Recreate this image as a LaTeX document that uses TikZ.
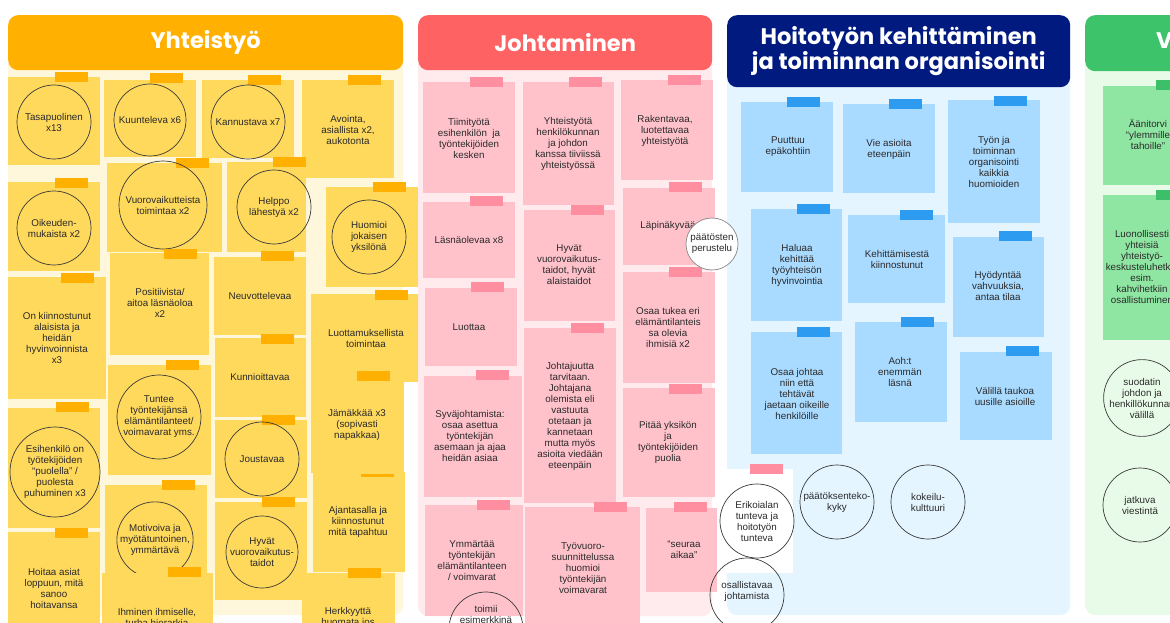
\documentclass[tikz,border=0pt]{standalone}
\usepackage{fontspec}
\setmainfont{Liberation Sans}
\newfontfamily\headfont{Poppins}
\definecolor{ink}{HTML}{2A2A2A}
\definecolor{ring}{HTML}{3A3A3A}
\definecolor{hy}{HTML}{FFB000}
\definecolor{by}{HTML}{FFF7DC}
\definecolor{ny}{HTML}{FFD95C}
\definecolor{ty}{HTML}{FFB000}
\definecolor{hr}{HTML}{FF6262}
\definecolor{br}{HTML}{FFEAEE}
\definecolor{nr}{HTML}{FFC2CB}
\definecolor{tr}{HTML}{FF8FA0}
\definecolor{hb}{HTML}{011A80}
\definecolor{bb}{HTML}{E4F5FF}
\definecolor{nb}{HTML}{A9DAFF}
\definecolor{tb}{HTML}{2D9CF0}
\definecolor{hg}{HTML}{3DC46A}
\definecolor{bg}{HTML}{E8FBE8}
\definecolor{ng}{HTML}{8FE6A2}
\definecolor{tg}{HTML}{3DBF6A}
\newcommand\postit[6]{\node[note=#6, minimum width=#4, minimum height=#5] (#1) at (#2,#3) {};}
\newcommand\tapeat[4]{\node[tape=#4] (#1) at (#2,#3) {};}
\begin{document}
\begin{tikzpicture}[x=1pt,y=-1pt,
  note/.style={fill=#1, inner sep=0, outer sep=0, anchor=north west},
  tape/.style={fill=#1, minimum width=33, minimum height=10, inner sep=0, outer sep=0},
  txt/.style={align=center, font=\fontsize{9.8}{11}\selectfont, text=ink, inner sep=0},
  circ/.style={circle, draw=ring, line width=0.7pt, minimum size=#1, inner sep=0, align=center, font=\fontsize{9.8}{11}\selectfont, text=ink},
  body/.style={fill=#1, rounded corners=10pt, anchor=north west, inner sep=0},
  hdr/.style={fill=#1, rounded corners=10pt, anchor=north west, inner sep=0, text=white, font=\headfont\bfseries\fontsize{22.5}{20}\selectfont, align=center}
]
\useasboundingbox (0,0) rectangle (1170,623);
\clip (0,0) rectangle (1170,623);
\fill[white] (0,0) rectangle (1170,623);

% panels
\node[body=by, minimum width=395, minimum height=600] (p1) at (8,15) {};
\node[body=br, minimum width=294, minimum height=601] (p2) at (418,15) {};
\node[body=bb, minimum width=343, minimum height=600] (p3) at (727,15) {};
\node[body=bg, minimum width=120, minimum height=600] (p4) at (1085,15) {};
\node[hdr=hy, minimum width=395, minimum height=55] (h1) at (8,15) {Yhteistyö};
\node[hdr=hr, minimum width=294, minimum height=55] (h2) at (418,15) {Johtaminen};
\node[hdr=hb, minimum width=343, minimum height=72] (h3) at (727,15) {Hoitotyön kehittäminen\\ja toiminnan organisointi};
\node[hdr=hg, minimum width=120, minimum height=56] (h4) at (1085,15) {};
\node[font=\headfont\bfseries\fontsize{22.5}{20}\selectfont, text=white, anchor=west, inner sep=0] (h4t) at (1156,41) {V};

% ---------- Yhteistyö ----------
\postit{y1}{8}{77}{92}{88}{ny}\tapeat{y1t}{71}{77}{ty}
\node[circ=74] (y1c) at (54,122) {Tasapuolinen\\x13};
\postit{y2}{104}{80}{92}{77}{ny}\tapeat{y2t}{166}{78}{ty}
\node[circ=72] (y2c) at (150,120) {Kuunteleva x6};
\postit{y3}{202}{80}{92}{78}{ny}\tapeat{y3t}{264}{80}{ty}
\node[circ=74] (y3c) at (248,122) {Kannustava x7};
\postit{y4}{302}{80}{92}{98}{ny}\tapeat{y4t}{364}{80}{ty}
\node[txt] (y4x) at (348,130) {Avointa,\\asiallista x2,\\aukotonta};
\postit{y5}{8}{182}{92}{89}{ny}\tapeat{y5t}{71}{183}{ty}
\node[circ=74] (y5c) at (54,228) {Oikeuden-\\mukaista x2};
\postit{y6}{107}{163}{115}{89}{ny}\tapeat{y6t}{192}{163}{ty}
\node[circ=88] (y6c) at (163,205) {Vuorovaikutteista\\toimintaa x2};
\postit{y7}{227}{162}{79}{90}{ny}\tapeat{y7t}{289}{162}{ty}
\node[circ=74] (y7c) at (274,207) {Helppo\\lähestyä x2};
\postit{y8}{326}{187}{92}{100}{ny}\tapeat{y8t}{389}{187}{ty}
\node[circ=74] (y8c) at (369,237) {Huomioi\\jokaisen\\yksilönä};
\postit{y9}{8}{277}{98}{122}{ny}\tapeat{y9t}{77}{278}{ty}
\node[txt] (y9x) at (57,338) {On kiinnostunut\\alaisista ja\\heidän\\hyvinvoinnista\\x3};
\postit{y10}{110}{253}{99}{102}{ny}\tapeat{y10t}{180}{254}{ty}
\node[txt] (y10x) at (160,303) {Positiivista/\\aitoa läsnäoloa\\x2};
\postit{y11}{214}{257}{92}{78}{ny}\tapeat{y11t}{277}{256}{ty}
\node[txt] (y11x) at (260,296) {Neuvottelevaa};
\postit{y12}{311}{294}{107}{88}{ny}\tapeat{y12t}{391}{295}{ty}
\node[txt] (y12x) at (366,338) {Luottamuksellista\\toimintaa};
\postit{y13}{215}{338}{91}{79}{ny}\tapeat{y13t}{277}{339}{ty}
\node[txt] (y13x) at (260,377) {Kunnioittavaa};
\postit{y14}{108}{365}{103}{110}{ny}\tapeat{y14t}{182}{365}{ty}
\node[circ=84] (y14c) at (159,417) {Tuntee\\työntekijänsä\\elämäntilanteet/\\voimavarat yms.};
\postit{y18}{313}{472}{92}{100}{ny}\node[fill=ty, minimum width=33, minimum height=3, inner sep=0] (y18t) at (377,475) {};
\node[txt] (y18x) at (358,522) {Ajantasalla ja\\kiinnostunut\\mitä tapahtuu};
\postit{y15}{311}{381}{93}{92}{ny}\tapeat{y15t}{373}{376}{ty}
\node[txt] (y15x) at (357,425) {Jämäkkää x3\\(sopivasti\\napakkaa)};
\postit{y16}{215}{420}{92}{78}{ny}\tapeat{y16t}{278}{420}{ty}
\node[circ=74] (y16c) at (262,459) {Joustavaa};
\postit{y17}{8}{408}{92}{120}{ny}\tapeat{y17t}{72}{407}{ty}
\node[circ=90] (y17c) at (55,472) {Esihenkilö on\\työtekijöiden\\“puolella” /\\puolesta\\puhuminen x3};
\postit{y19}{105}{485}{102}{95}{ny}\tapeat{y19t}{178}{485}{ty}
\node[circ=74] (y19c) at (155,540) {Motivoiva ja\\myötätuntoinen,\\ymmärtävä};
\postit{y20}{215}{502}{92}{98}{ny}\tapeat{y20t}{278}{502}{ty}
\node[circ=72] (y20c) at (262,552) {Hyvät\\vuorovaikutus-\\taidot};
\postit{y21}{8}{532}{92}{98}{ny}\tapeat{y21t}{71}{533}{ty}
\node[txt] (y21x) at (54,588) {Hoitaa asiat\\loppuun, mitä\\sanoo\\hoitavansa};
\postit{y22}{102}{573}{111}{57}{ny}\tapeat{y22t}{184}{572}{ty}
\node[txt] (y22x) at (157,617) {Ihminen ihmiselle,\\turha hierarkia};
\postit{y23}{302}{573}{93}{57}{ny}\tapeat{y23t}{364}{573}{ty}
\node[txt] (y23x) at (348,617) {Herkkyyttä\\huomata jos};

% ---------- Johtaminen ----------
\postit{r1}{423}{82}{92}{111}{nr}\tapeat{r1t}{486}{82}{tr}
\node[txt] (r1x) at (469,138) {Tiimityötä\\esihenkilön\ \ ja\\työntekijöiden\\kesken};
\postit{r2}{523}{82}{91}{123}{nr}\tapeat{r2t}{585}{82}{tr}
\node[txt] (r2x) at (568,144) {Yhteistyötä\\henkilökunnan\\ja johdon\\kanssa tiiviissä\\yhteistyössä};
\postit{r3}{621}{80}{92}{100}{nr}\tapeat{r3t}{684}{80}{tr}
\node[txt] (r3x) at (665,131) {Rakentavaa,\\luotettavaa\\yhteistyötä};
\postit{r4}{423}{202}{92}{76}{nr}\tapeat{r4t}{486}{201}{tr}
\node[txt] (r4x) at (469,240) {Läsnäolevaa x8};
\postit{r5}{524}{210}{91}{111}{nr}\tapeat{r5t}{587}{210}{tr}
\node[txt] (r5x) at (569,265) {Hyvät\\vuorovaikutus-\\taidot, hyvät\\alaistaidot};
\postit{r6}{623}{188}{92}{77}{nr}\tapeat{r6t}{685}{187}{tr}
\node[txt] (r6x) at (668,226) {Läpinäkyvää};
\postit{r7}{425}{288}{92}{78}{nr}\tapeat{r7t}{487}{287}{tr}
\node[txt] (r7x) at (469,327) {Luottaa};
\postit{r8}{623}{272}{92}{111}{nr}\tapeat{r8t}{685}{272}{tr}
\node[txt] (r8x) at (668,327) {Osaa tukea eri\\elämäntilanteis\\sa olevia\\ihmisiä x2};
\postit{r9}{524}{328}{92}{175}{nr}\tapeat{r9t}{587}{328}{tr}
\node[txt] (r9x) at (570,416) {Johtajuutta\\tarvitaan.\\Johtajana\\olemista eli\\vastuuta\\otetaan ja\\kannetaan\\mutta myös\\asioita viedään\\eteenpäin};
\postit{r10}{424}{376}{98}{121}{nr}\tapeat{r10t}{492}{375}{tr}
\node[txt] (r10x) at (470,436) {Syväjohtamista:\\osaa asettua\\työntekijän\\asemaan ja ajaa\\heidän asiaa};
\postit{r11}{623}{388}{92}{109}{nr}\tapeat{r11t}{685}{389}{tr}
\node[txt] (r11x) at (668,442) {Pitää yksikön\\ja\\työntekijöiden\\puolia};
\postit{r12}{425}{505}{98}{111}{nr}\tapeat{r12t}{493}{505}{tr}
\node[txt] (r12x) at (472,561) {Ymmärtää\\työntekijän\\elämäntilanteen\\/ voimvarat};
\postit{r13}{525}{507}{115}{123}{nr}\tapeat{r13t}{610}{507}{tr}
\node[txt] (r13x) at (583,568) {Työvuoro-\\suunnittelussa\\huomioi\\työntekijän\\voimavarat};
\postit{r14}{646}{508}{71}{84}{nr}\tapeat{r14t}{690}{507}{tr}
\node[txt] (r14x) at (684,550) {“seuraa\\aikaa”};
\node[circ=52, fill=white, draw=ring!60] (rc1) at (712,244) {päätösten\\perustelu};
\node[circ=74] (rc2) at (486,629) {};
\node[txt] (rc2x) at (486,614) {toimii\\esimerkkinä};

% ---------- Hoitotyö ----------
\postit{b1}{741}{102}{92}{90}{nb}\tapeat{b1t}{803}{102}{tb}
\node[txt] (b1x) at (788,147) {Puuttuu\\epäkohtiin};
\postit{b2}{843}{104}{92}{89}{nb}\tapeat{b2t}{905}{104}{tb}
\node[txt] (b2x) at (889,149) {Vie asioita\\eteenpäin};
\postit{b3}{948}{100}{92}{123}{nb}\tapeat{b3t}{1010}{101}{tb}
\node[txt] (b3x) at (994,162) {Työn ja\\toiminnan\\organisointi\\kaikkia\\huomioiden};
\postit{b4}{751}{209}{91}{112}{nb}\tapeat{b4t}{813}{209}{tb}
\node[txt] (b4x) at (797,265) {Haluaa\\kehittää\\työyhteisön\\hyvinvointia};
\postit{b5}{848}{215}{97}{88}{nb}\tapeat{b5t}{916}{215}{tb}
\node[txt] (b5x) at (897,259) {Kehittämisestä\\kiinnostunut};
\postit{b6}{953}{237}{91}{100}{nb}\tapeat{b6t}{1015}{236}{tb}
\node[txt] (b6x) at (998,286) {Hyödyntää\\vahvuuksia,\\antaa tilaa};
\postit{b7}{751}{332}{91}{122}{nb}\tapeat{b7t}{813}{332}{tb}
\node[txt] (b7x) at (797,394) {Osaa johtaa\\niin että\\tehtävät\\jaetaan oikeille\\henkilöille};
\postit{b8}{855}{322}{92}{100}{nb}\tapeat{b8t}{917}{322}{tb}
\node[txt] (b8x) at (900,372) {Aoh:t\\enemmän\\läsnä};
\postit{b9}{960}{352}{92}{88}{nb}\tapeat{b9t}{1022}{351}{tb}
\node[txt] (b9x) at (1005,396) {Välillä taukoa\\uusille asioille};
\postit{w1}{722}{469}{71}{104}{white}\tapeat{w1t}{766}{469}{tr}
\node[circ=74] (w1c) at (757,521) {Erikoialan\\tunteva ja\\hoitotyön\\tunteva};
\node[circ=74] (bc1) at (837,502) {päätöksenteko-\\kyky};
\node[circ=74] (bc2) at (928,502) {kokeilu-\\kulttuuri};
\node[circ=74] (bc3) at (747,595) {};
\node[txt] (bc3x) at (747,591) {osallistavaa\\johtamista};

% ---------- V ----------
\postit{g1}{1103}{86}{92}{99}{ng}\tapeat{g1t}{1172}{85}{tg}
\node[txt] (g1x) at (1148,134) {Äänitorvi\\“ylemmille\\tahoille”};
\postit{g2}{1103}{195}{92}{145}{ng}\tapeat{g2t}{1172}{195}{tg}
\node[txt] (g2x) at (1142,267) {Luonollisesti\\yhteisiä\\yhteistyö-\\keskusteluhetkiä\\esim.\\kahvihetkiin\\osallistuminen};
\node[circ=74] (gc1) at (1142,398) {suodatin\\johdon ja\\henkillökunnan\\välillä};
\node[circ=74] (gc2) at (1140,505) {jatkuva\\viestintä};
\end{tikzpicture}
\end{document}
